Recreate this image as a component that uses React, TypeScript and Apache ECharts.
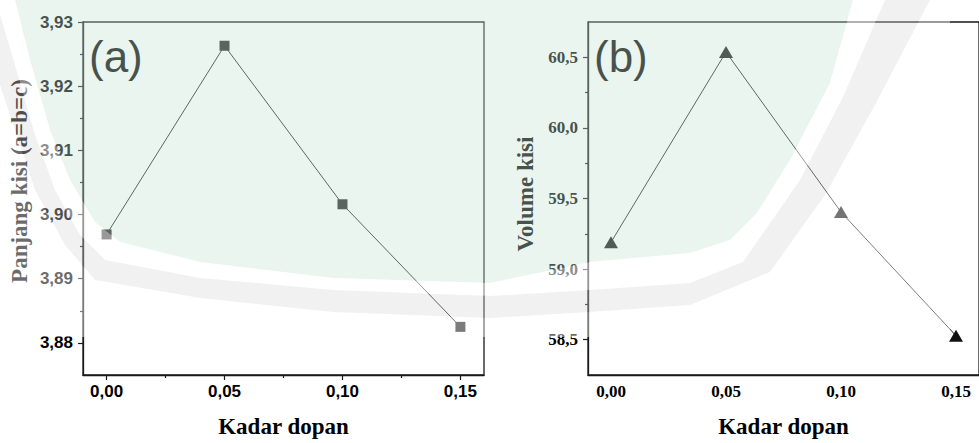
import React, { useEffect, useRef } from "react";
import * as echarts from "echarts";

// ---- data ----
const dopantLevels = [0, 0.05, 0.1, 0.15];
const latticeParam = [3.8969, 3.9263, 3.9016, 3.8825];
const latticeVolume = [59.19, 60.537, 59.404, 58.528];

const xTickValues = [0, 0.05, 0.1, 0.15];
const xMinorTickValues = [0.025, 0.075, 0.125];
const latticeTicks = [3.88, 3.89, 3.9, 3.91, 3.92, 3.93];
const latticeMinorTicks = [3.885, 3.895, 3.905, 3.915, 3.925];
const volumeTicks = [58.5, 59.0, 59.5, 60.0, 60.5];
const volumeMinorTicks = [58.75, 59.25, 59.75, 60.25];

const xTitle = "Kadar dopan";
const latticeTitle = "Panjang kisi (a=b=c)";
const volumeTitle = "Volume kisi";
const panelA = "(a)";
const panelB = "(b)";

const AX = "#1a1a1a";
const SANS = '"Liberation Sans", Arial, sans-serif';
const SERIF = '"Liberation Serif", "Times New Roman", serif';

const comma = (d: number) => (v: number) => Number(v).toFixed(d).replace(".", ",");

function xAxisMain(gridIndex: number, fontFamily: string, showTicks: boolean) {
  return {
    type: "value",
    gridIndex,
    min: -0.01,
    max: 0.16,
    position: "bottom",
    axisLine: { show: true, onZero: false, lineStyle: { color: AX, width: 1.3 } },
    axisTick: {
      show: showTicks,
      inside: false,
      length: 5,
      customValues: xTickValues,
      lineStyle: { color: AX, width: 1.2 },
    },
    axisLabel: {
      customValues: xTickValues,
      formatter: comma(2),
      margin: 8,
      color: "#000",
      fontFamily,
      fontWeight: "bold",
      fontSize: 17,
    },
    splitLine: { show: false },
    name: xTitle,
    nameLocation: "middle",
    nameGap: 40,
    nameTextStyle: { fontFamily: SERIF, fontWeight: "bold", fontSize: 23, color: "#000" },
  };
}

function xAxisMinor(gridIndex: number, show: boolean) {
  return {
    type: "value",
    gridIndex,
    min: -0.01,
    max: 0.16,
    position: "bottom",
    axisLine: { show: false, onZero: false },
    axisTick: {
      show,
      inside: false,
      length: 3,
      customValues: xMinorTickValues,
      lineStyle: { color: AX, width: 1.2 },
    },
    axisLabel: { show: false },
    splitLine: { show: false },
  };
}

function yAxisMain(gridIndex: number, min: number, max: number, ticks: number[], digits: number, fontFamily: string) {
  return {
    type: "value",
    gridIndex,
    min,
    max,
    position: "left",
    axisLine: { show: true, onZero: false, lineStyle: { color: AX, width: 1.3 } },
    axisTick: { show: true, inside: false, length: 5, customValues: ticks, lineStyle: { color: AX, width: 1.2 } },
    axisLabel: {
      customValues: ticks,
      formatter: comma(digits),
      margin: 10,
      color: "#000",
      fontFamily,
      fontWeight: "bold",
      fontSize: 17,
    },
    splitLine: { show: false },
  };
}

function yAxisMinor(gridIndex: number, min: number, max: number, ticks: number[]) {
  return {
    type: "value",
    gridIndex,
    min,
    max,
    position: "left",
    axisLine: { show: false, onZero: false },
    axisTick: { show: true, inside: false, length: 3, customValues: ticks, lineStyle: { color: AX, width: 1.2 } },
    axisLabel: { show: false },
    splitLine: { show: false },
  };
}

// faint watermark tint regions (decoration only)
const mintEdge = [[853,0],[830,83],[790,160],[757,213],[730,240],[690,253],[590,262],[490,283],[333,278],[200,262],[120,242],[95,222],[70,180],[50,130],[30,60],[15,0]];
const whiteEdge = [[0,15],[15,65],[35,135],[55,190],[80,235],[105,260],[200,278],[333,290],[490,296],[590,290],[690,283],[743,262],[800,180],[843,97],[885,0]];
const grayEdge = [[930,0],[875,105],[825,195],[770,272],[690,305],[590,312],[490,318],[333,312],[200,298],[95,280],[65,245],[35,190],[10,115],[0,85]];

const mintRegion = mintEdge;
const whiteBand = [...mintEdge, [0, 0], ...whiteEdge];
const grayBand = [...whiteEdge, ...grayEdge];
const restRegion = [[930, 0], [950, 0], [950, 337], [0, 337], ...[...grayEdge].reverse().slice(0, -1)];

export default function App() {
  const ref = useRef<HTMLDivElement>(null);

  useEffect(() => {
    if (!ref.current) return;
    const chart = echarts.init(ref.current, null, { renderer: "svg" });

    const poly = (pts: number[][], fill: string) => ({
      type: "polygon",
      z: 100,
      silent: true,
      shape: { points: pts },
      style: { fill, stroke: "none" },
    });

    const option = {
      animation: false,
      backgroundColor: "#ffffff",
      grid: [
        { left: 83, top: 22, width: 401, height: 358, show: true, borderColor: AX, borderWidth: 1.3, backgroundColor: "transparent", containLabel: false },
        { left: 588, top: 22, width: 401, height: 358, show: true, borderColor: AX, borderWidth: 1.3, backgroundColor: "transparent", containLabel: false },
      ],
      xAxis: [
        xAxisMain(0, SANS, true),
        xAxisMinor(0, true),
        xAxisMain(1, SERIF, false),
        xAxisMinor(1, false),
      ],
      yAxis: [
        yAxisMain(0, 3.875, 3.93, latticeTicks, 2, SANS),
        yAxisMinor(0, 3.875, 3.93, latticeMinorTicks),
        yAxisMain(1, 58.25, 60.75, volumeTicks, 1, SERIF),
        yAxisMinor(1, 58.25, 60.75, volumeMinorTicks),
      ],
      series: [
        {
          type: "line",
          xAxisIndex: 0,
          yAxisIndex: 0,
          data: dopantLevels.map((x, i) => [x, latticeParam[i]]),
          symbol: "rect",
          symbolSize: 10,
          itemStyle: { color: "#1e1e1e" },
          lineStyle: { color: "#222", width: 1 },
          z: 5,
        },
        {
          type: "line",
          xAxisIndex: 2,
          yAxisIndex: 2,
          data: dopantLevels.map((x, i) => [x, latticeVolume[i]]),
          symbol: "triangle",
          symbolSize: [14, 12],
          itemStyle: { color: "#111" },
          lineStyle: { color: "#222", width: 1 },
          z: 5,
        },
      ],
      graphic: [
        {
          type: "text",
          x: 19,
          y: 181,
          rotation: Math.PI / 2,
          z: 50,
          style: { text: latticeTitle, font: `bold 23px ${SERIF}`, fill: "#000", align: "center", verticalAlign: "middle" },
        },
        {
          type: "text",
          x: 525,
          y: 194,
          rotation: Math.PI / 2,
          z: 50,
          style: { text: volumeTitle, font: `bold 23px ${SERIF}`, fill: "#000", align: "center", verticalAlign: "middle" },
        },
        {
          type: "text",
          x: 89,
          y: 56,
          z: 50,
          style: { text: panelA, font: `44px ${SANS}`, fill: "#000", align: "left", verticalAlign: "middle" },
        },
        {
          type: "text",
          x: 594,
          y: 56,
          z: 50,
          style: { text: panelB, font: `44px ${SANS}`, fill: "#000", align: "left", verticalAlign: "middle" },
        },
        poly(mintRegion, "rgba(197,226,210,0.36)"),
        poly(whiteBand, "rgba(255,255,255,0.55)"),
        poly(grayBand, "rgba(215,215,215,0.36)"),
        poly(restRegion, "rgba(255,255,255,0.42)"),
      ],
    };

    chart.setOption(option as any);
    return () => chart.dispose();
  }, []);

  return (
    <div
      ref={ref}
      style={{ position: "absolute", left: 0, top: 0, width: 979, height: 443 }}
    />
  );
}
